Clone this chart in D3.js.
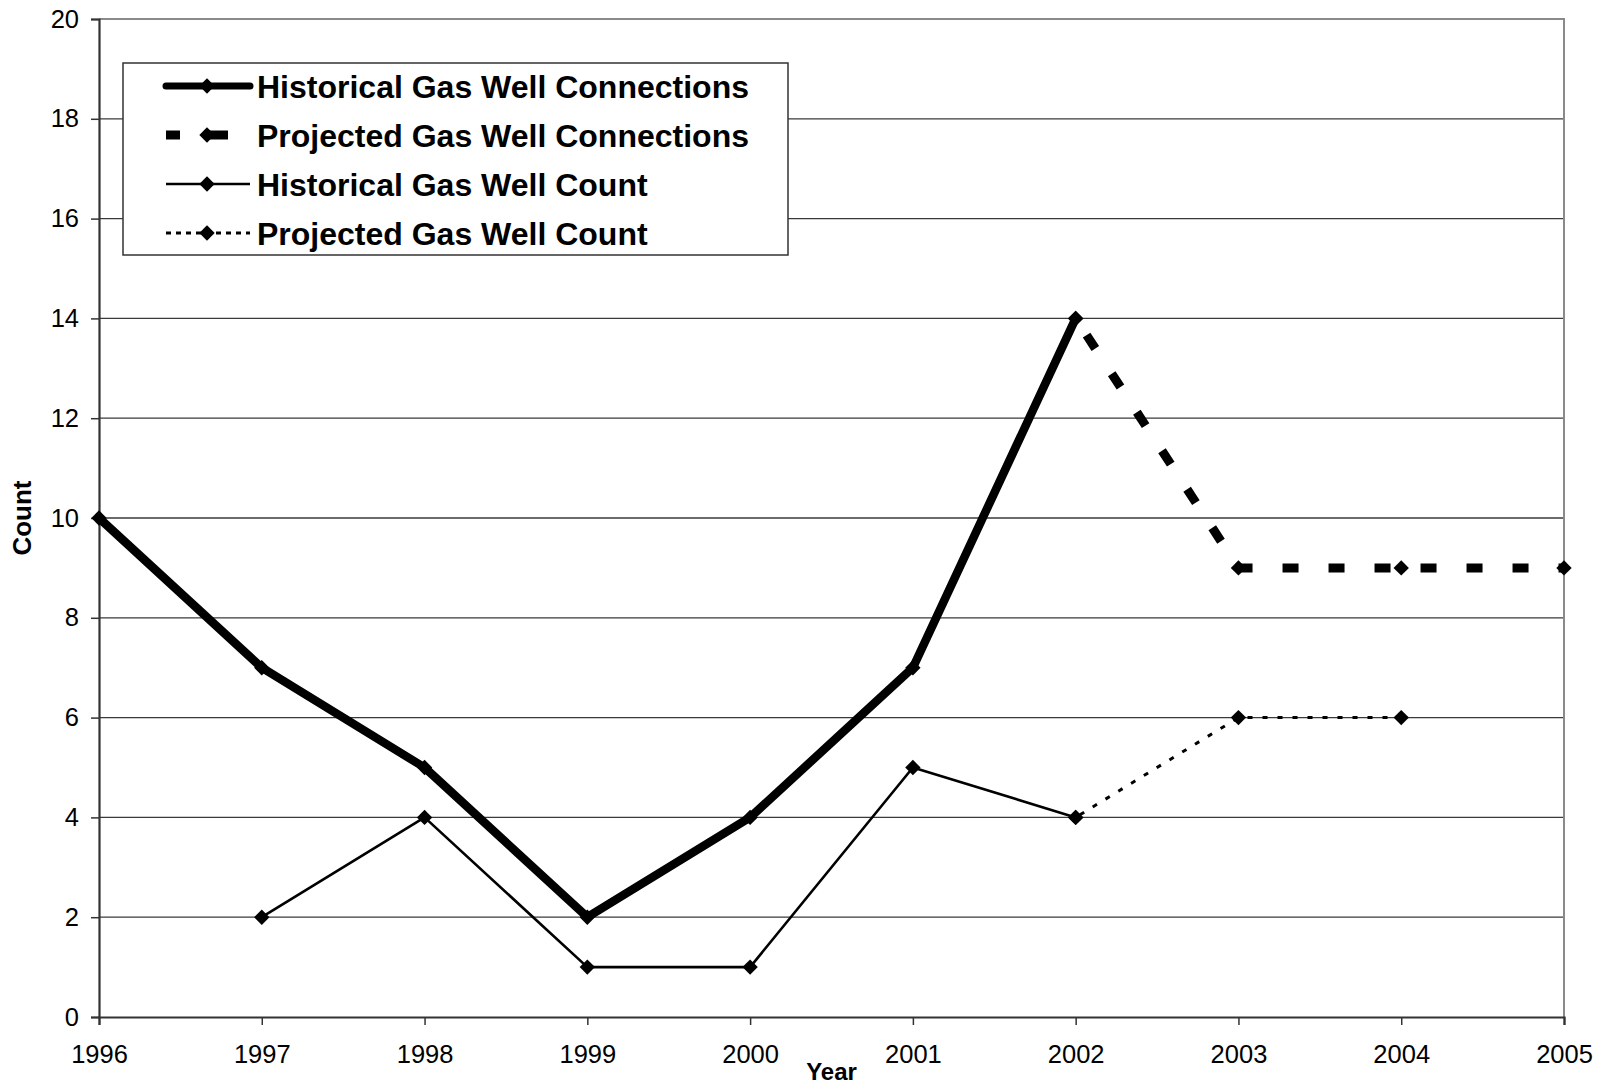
<!DOCTYPE html>
<html>
<head>
<meta charset="utf-8">
<script src="https://cdn.jsdelivr.net/npm/d3@7"></script>
<style>
  body { margin: 0; background: #fff; }
  svg { display: block; font-family: "Liberation Sans", Arial, sans-serif; }
</style>
</head>
<body>
<div id="chart"></div>
<script>
// data
var years = [1996, 1997, 1998, 1999, 2000, 2001, 2002, 2003, 2004, 2005];
var yTicks = [0, 2, 4, 6, 8, 10, 12, 14, 16, 18, 20];

var histConnections = [[1996, 10], [1997, 7], [1998, 5], [1999, 2], [2000, 4], [2001, 7], [2002, 14]];
var projConnections = [[2002, 14], [2003, 9], [2004, 9], [2005, 9]];
var histCount = [[1997, 2], [1998, 4], [1999, 1], [2000, 1], [2001, 5], [2002, 4]];
var projCount = [[2002, 4], [2003, 6], [2004, 6]];

var seriesNames = ["Historical Gas Well Connections", "Projected Gas Well Connections",
                   "Historical Gas Well Count", "Projected Gas Well Count"];

var width = 1601, height = 1086;
var margin = { left: 99, top: 19, right: 1601 - 1564, bottom: 1086 - 1017 };

var svg = d3.select("#chart").append("svg")
    .attr("width", width)
    .attr("height", height);

var x = d3.scaleLinear().domain([1996, 2005]).range([margin.left, width - margin.right]);
var y = d3.scaleLinear().domain([0, 20]).range([height - margin.bottom, margin.top]);

// gridlines
svg.append("g").selectAll("line").data(yTicks.filter(function (d) { return d > 0 && d < 20; }))
    .enter().append("line")
    .attr("x1", x(1996)).attr("x2", x(2005))
    .attr("y1", function (d) { return y(d); }).attr("y2", function (d) { return y(d); })
    .style("stroke", "#3a3a3a").style("stroke-width", 1.3);

// top + right frame
svg.append("path")
    .attr("d", "M" + x(1996) + "," + y(20) + "H" + x(2005) + "V" + y(0))
    .style("fill", "none").style("stroke", "#8a8a8a").style("stroke-width", 2);

// axes
var yAxis = svg.append("g")
    .attr("transform", "translate(" + x(1996) + ",0)")
    .call(d3.axisLeft(y).tickValues(yTicks).tickSize(8).tickPadding(12).tickFormat(d3.format("d")));

var xAxis = svg.append("g")
    .attr("transform", "translate(0," + y(0) + ")")
    .call(d3.axisBottom(x).tickValues(years).tickSize(8).tickPadding(20).tickFormat(d3.format("d")));

[xAxis, yAxis].forEach(function (a) {
    a.select(".domain").style("stroke", "#333").style("stroke-width", 2.2);
    a.selectAll(".tick line").style("stroke", "#333").style("stroke-width", 1.5);
    a.selectAll(".tick text").style("font-size", "25.5px").style("fill", "#000")
        .style("font-family", "'Liberation Sans', Arial, sans-serif");
});
xAxis.selectAll(".tick text").attr("dy", "0.71em");

// axis titles
svg.append("text")
    .attr("transform", "translate(31," + y(10) + ") rotate(-90)")
    .attr("text-anchor", "middle")
    .style("font-size", "26px").style("font-weight", "bold")
    .text("Count");

svg.append("text")
    .attr("x", (x(1996) + x(2005)) / 2).attr("y", 1080)
    .attr("text-anchor", "middle")
    .style("font-size", "24px").style("font-weight", "bold")
    .text("Year");

// series
var line = d3.line()
    .x(function (d) { return x(d[0]); })
    .y(function (d) { return y(d[1]); });

var styles = [
    { data: histConnections, w: 8.5, dash: null, cap: "round" },
    { data: projConnections, w: 9, dash: "16,30", cap: "butt" },
    { data: histCount, w: 2.6, dash: null, cap: "round" },
    { data: projCount, w: 3, dash: "5,10", cap: "butt" }
];

var diamond = d3.symbol().type(d3.symbolSquare).size(118);

var plot = svg.append("g");
styles.forEach(function (s, i) {
    plot.append("path")
        .datum(s.data)
        .attr("d", line)
        .style("fill", "none").style("stroke", "#000")
        .style("stroke-width", s.w)
        .style("stroke-dasharray", s.dash)
        .style("stroke-dashoffset", s.dash ? -20 : null)
        .style("stroke-linecap", s.cap)
        .style("stroke-linejoin", "round");
});
styles.forEach(function (s) {
    plot.selectAll(null).data(s.data).enter().append("path")
        .attr("d", diamond)
        .attr("transform", function (d) { return "translate(" + x(d[0]) + "," + y(d[1]) + ") rotate(45)"; })
        .style("fill", "#000");
});

// legend
var lg = svg.append("g");
lg.append("rect")
    .attr("x", 123).attr("y", 63).attr("width", 788 - 123).attr("height", 255 - 63)
    .style("fill", "#fff").style("stroke", "#333").style("stroke-width", 1.5);

var rowY = [86, 135, 184, 233];
var legendSample = [
    { w: 7, dash: null, cap: "round", x2: 250 },
    { w: 9, dash: "14,24,24,200", cap: "butt", x2: 250 },
    { w: 2.6, dash: null, cap: "butt", x2: 250 },
    { w: 2.8, dash: "5,5", cap: "butt", x2: 250 }
];
legendSample.forEach(function (s, i) {
    var ly = rowY[i];
    lg.append("line")
        .attr("x1", 166).attr("x2", s.x2).attr("y1", ly).attr("y2", ly)
        .style("stroke", "#000")
        .style("stroke-width", s.w)
        .style("stroke-dasharray", s.dash)
        .style("stroke-linecap", s.cap);
    lg.append("path")
        .attr("d", diamond)
        .attr("transform", "translate(207," + ly + ") rotate(45)")
        .style("fill", "#000");
    lg.append("text")
        .attr("x", 257).attr("y", ly).attr("dy", "0.36em")
        .style("font-size", "32px").style("font-weight", "bold")
        .text(seriesNames[i]);
});
</script>
</body>
</html>
